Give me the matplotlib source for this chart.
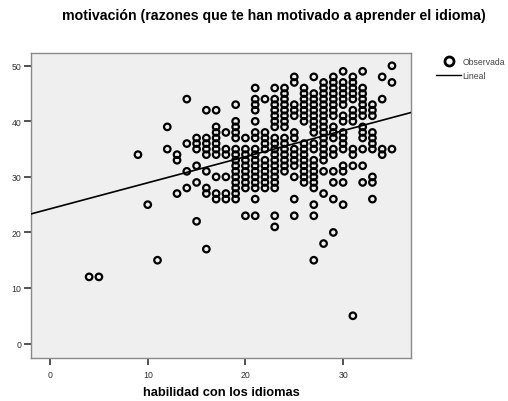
import numpy as np
import matplotlib
matplotlib.use("Agg")
import matplotlib.pyplot as plt
from matplotlib.lines import Line2D

plt.rcParams['font.family'] = ['Liberation Sans', 'DejaVu Sans']

# habilidad con los idiomas -> motivación, grouped by skill score
col_4 = [12]
col_5 = [12]
col_9 = [34]
col_10 = [25]
col_11 = [15]
col_12 = [39, 35]
col_13 = [34, 33, 27]
col_14 = [44, 36, 31, 28]
col_15 = [37, 36, 35, 32, 29, 22]
col_16 = [42, 37, 36, 35, 34, 31, 28, 27, 17]
col_17 = [42, 39, 38, 37, 36, 35, 34, 30, 27, 26]
col_18 = [38, 35, 34, 30, 27, 26]
col_19 = [43, 40, 39, 38, 37, 35, 34, 33, 32, 31, 30, 29, 28, 27, 26]
col_20 = [37, 35, 34, 33, 32, 31, 30, 29, 28, 23]
col_21 = [46, 44, 43, 42, 40, 38, 37, 35, 34, 33, 32, 31, 30, 29, 28, 26, 23]
col_22 = [44, 38, 37, 36, 35, 33, 32, 31, 30, 29, 28]
col_23 = [46, 44, 43, 42, 41, 40, 39, 37, 36, 35, 34, 33, 32, 31, 30, 29, 28, 23, 21]
col_24 = [46, 45, 44, 43, 42, 41, 40, 39, 37, 36, 35, 34, 33, 32, 31]
col_25 = [48, 47, 43, 42, 41, 38, 37, 35, 34, 33, 32, 30, 26, 23]
col_26 = [46, 45, 44, 43, 42, 41, 40, 36, 35, 34, 33, 32, 31, 30, 29]
col_27 = [48, 45, 44, 43, 42, 41, 40, 39, 38, 36, 35, 33, 32, 31, 30, 29, 28, 25, 23, 15]
col_28 = [47, 46, 45, 44, 43, 42, 41, 40, 39, 38, 37, 36, 35, 34, 33, 31, 27, 18]
col_29 = [48, 47, 46, 45, 44, 43, 42, 41, 39, 38, 37, 35, 34, 31, 29, 26, 20]
col_30 = [49, 47, 46, 45, 44, 43, 41, 40, 38, 37, 36, 35, 32, 31, 29, 25]
col_31 = [48, 47, 46, 45, 44, 42, 41, 40, 35, 34, 32, 5]
col_32 = [49, 46, 45, 44, 43, 42, 41, 39, 38, 37, 35, 32, 29]
col_33 = [43, 42, 41, 38, 37, 36, 35, 30, 29, 26]
col_34 = [48, 44, 35, 34]
col_35 = [50, 47, 35]

columns = {
    4: col_4, 5: col_5, 9: col_9, 10: col_10, 11: col_11, 12: col_12,
    13: col_13, 14: col_14, 15: col_15, 16: col_16, 17: col_17, 18: col_18,
    19: col_19, 20: col_20, 21: col_21, 22: col_22, 23: col_23, 24: col_24,
    25: col_25, 26: col_26, 27: col_27, 28: col_28, 29: col_29, 30: col_30,
    31: col_31, 32: col_32, 33: col_33, 34: col_34, 35: col_35,
}

x_ticks = [0, 10, 20, 30]
y_ticks = [0, 10, 20, 30, 40, 50]

habilidad = np.concatenate([[k] * len(v) for k, v in columns.items()]).astype(float)
motivacion = np.concatenate([v for v in columns.values()]).astype(float)

W, H = 508, 402
fig = plt.figure(figsize=(W / 100, H / 100), dpi=100)
fig.patch.set_facecolor('white')

ax = fig.add_axes([31 / W, 1 - 359 / H, 380 / W, 305 / H])
ax.set_facecolor('#efefef')
ax.set_xlim(-1.95, 36.95)
ax.set_ylim(-2.6, 52.3)

ax.scatter(habilidad, motivacion, s=22, facecolors='none', edgecolors='black',
           linewidths=1.6, zorder=3)

# least-squares fit line
slope, intercept = np.polyfit(habilidad, motivacion, 1)
xs = np.array(ax.get_xlim())
ax.plot(xs, intercept + slope * xs, color='black', lw=1.2, zorder=4)

for side in ['top', 'right', 'bottom', 'left']:
    ax.spines[side].set_color('#8a8a8a')
    ax.spines[side].set_linewidth(1.0)

ax.set_xticks(x_ticks)
ax.set_yticks(y_ticks)
ax.tick_params(axis='both', direction='out', length=5, width=1.2, color='#333333',
               labelsize=6.3, labelcolor='#333333', pad=2)
ax.tick_params(axis='x', pad=4)

ax.set_xlabel('habilidad con los idiomas', fontsize=9.3, fontweight='bold', labelpad=5)

fig.text(274 / W, 1 - 16 / H,
         'motivación (razones que te han motivado a aprender el idioma)',
         ha='center', va='center', fontsize=10.2, fontweight='bold')

handles = [
    Line2D([], [], marker='o', linestyle='none', markersize=6.5, markerfacecolor='none',
           markeredgecolor='black', markeredgewidth=2.0),
    Line2D([], [], color='black', lw=1.0),
]
fig.legend(handles, ['Observada', 'Lineal'], loc='upper left',
           bbox_to_anchor=(433 / W, 1 - 55 / H), frameon=False, fontsize=6.2,
           handlelength=2.9, handletextpad=0.15, labelspacing=0.55, borderaxespad=0,
           labelcolor='#444444')

fig.savefig('out.png', dpi=100, facecolor='white')
